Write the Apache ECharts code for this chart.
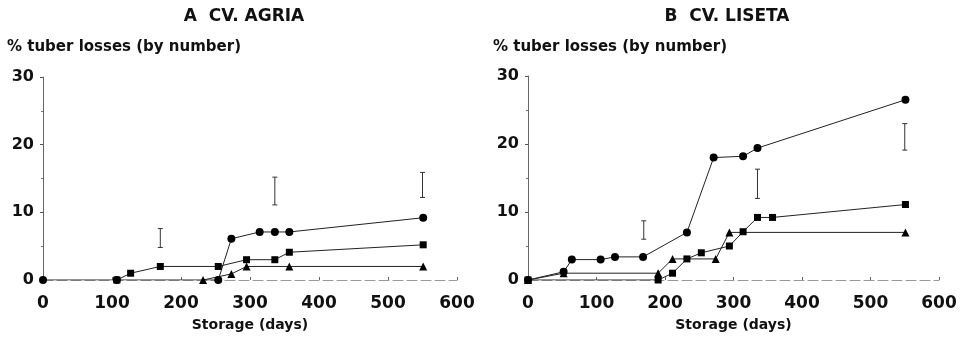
<!DOCTYPE html>
<html>
<head>
<meta charset="utf-8">
<script src="https://cdn.jsdelivr.net/npm/echarts@6/dist/echarts.min.js"></script>
<style>html,body{margin:0;padding:0;background:#fff;}#c{width:961px;height:340px;}</style>
</head>
<body>
<div id="c"></div>
<script>
// ---- Data ----
const xTicks = [0, 100, 200, 300, 400, 500, 600];
const yTicks = [0, 10, 20, 30];

// Panel A: cv. Agria
const daysA_circle = [0, 107, 254, 273, 314, 336, 357, 551];
const valsA_circle = [0, 0, 0, 6.1, 7.1, 7.1, 7.1, 9.2];
const daysA_square = [107, 127, 170, 254, 295, 336, 357, 551];
const valsA_square = [0, 1, 2, 2, 3, 3, 4.1, 5.2];
const daysA_tri = [232, 273, 295, 357, 551];
const valsA_tri = [0, 0.9, 2, 2, 2];
const daysA_err = [170, 336, 550];
const lowA_err = [4.8, 11.1, 12.2];
const highA_err = [7.6, 15.2, 15.9];

// Panel B: cv. Liseta
const daysB_circle = [0, 52, 64, 106, 127, 168, 232, 271, 314, 335, 551];
const valsB_circle = [0, 1.2, 3, 3, 3.4, 3.4, 7, 18, 18.2, 19.4, 26.5];
const daysB_square = [0, 190, 211, 232, 253, 294, 314, 335, 357, 551];
const valsB_square = [0, 0, 1, 3.1, 4, 5, 7.1, 9.2, 9.2, 11.1];
const daysB_tri = [0, 52, 190, 211, 274, 294, 551];
const valsB_tri = [0, 1, 1, 3.1, 3.1, 7, 7];
const daysB_err = [169, 335, 550];
const lowB_err = [6.0, 12.0, 19.1];
const highB_err = [8.7, 16.3, 23.0];

const titles = ['A  CV. AGRIA', 'B  CV. LISETA'];
const yName = '% tuber losses (by number)';
const xName = 'Storage (days)';

// ---- Helpers ----
const FONT = '"DejaVu Sans", "Liberation Sans", sans-serif';
const zip = (xs, ys) => xs.map((x, i) => [x, ys[i]]);
const zip3 = (xs, a, b) => xs.map((x, i) => [x, a[i], b[i]]);

function lineSeries(idx, xs, ys, symbol, size) {
  return {
    type: 'line', xAxisIndex: idx, yAxisIndex: idx,
    data: zip(xs, ys), symbol: symbol, symbolSize: size,
    showAllSymbol: true,
    lineStyle: { color: '#222', width: 1 },
    itemStyle: { color: '#000' },
    z: 3, animation: false
  };
}
function errSeries(idx, xs, lo, hi) {
  return {
    type: 'custom', xAxisIndex: idx, yAxisIndex: idx,
    data: zip3(xs, lo, hi),
    renderItem: function (params, api) {
      const p1 = api.coord([api.value(0), api.value(1)]);
      const p2 = api.coord([api.value(0), api.value(2)]);
      const w = 2.5;
      const st = { stroke: '#333', lineWidth: 1 };
      return {
        type: 'group',
        children: [
          { type: 'line', shape: { x1: p1[0], y1: p1[1], x2: p2[0], y2: p2[1] }, style: st },
          { type: 'line', shape: { x1: p1[0] - w, y1: p1[1], x2: p1[0] + w, y2: p1[1] }, style: st },
          { type: 'line', shape: { x1: p2[0] - w, y1: p2[1], x2: p2[0] + w, y2: p2[1] }, style: st }
        ]
      };
    },
    z: 2, animation: false
  };
}
function xAxis(idx) {
  return {
    type: 'value', gridIndex: idx, min: xTicks[0], max: xTicks[xTicks.length - 1], interval: 100,
    axisLine: { show: true, lineStyle: { color: '#999', width: 1, type: [10, 4] } },
    axisTick: { show: true, inside: true, length: 3, lineStyle: { color: '#666' } },
    axisLabel: { color: '#111', fontFamily: FONT, fontWeight: 'bold', fontSize: 17, margin: 15 },
    splitLine: { show: false },
    name: xName, nameLocation: 'middle', nameGap: 38,
    nameTextStyle: { color: '#111', fontFamily: FONT, fontWeight: 'bold', fontSize: 14 }
  };
}
function yAxis(idx) {
  return {
    type: 'value', gridIndex: idx, min: yTicks[0], max: yTicks[yTicks.length - 1], interval: 10,
    axisLine: { show: true, lineStyle: { color: '#666', width: 1 } },
    axisTick: { show: true, length: 3, lineStyle: { color: '#555' } },
    minorTick: { show: true, splitNumber: 2, length: 2, lineStyle: { color: '#777' } },
    axisLabel: { color: '#111', fontFamily: FONT, fontWeight: 'bold', fontSize: 16, margin: 9 },
    splitLine: { show: false }
  };
}
function text(x, y, s, size, align) {
  return {
    type: 'text', x: x, y: y,
    style: { text: s, fill: '#111', font: 'bold ' + size + 'px ' + FONT, align: align, verticalAlign: 'middle' }
  };
}

const chart = echarts.init(document.getElementById('c'), null, { renderer: 'canvas' });
chart.setOption({
  backgroundColor: '#fff',
  animation: false,
  grid: [
    { left: 43, right: 504, top: 77, bottom: 60 },
    { left: 528, right: 22, top: 76, bottom: 60 }
  ],
  xAxis: [xAxis(0), xAxis(1)],
  yAxis: [yAxis(0), yAxis(1)],
  graphic: [
    text(244, 17, titles[0], 17, 'center'),
    text(727, 17, titles[1], 17, 'center'),
    text(7, 47, yName, 15, 'left'),
    text(493, 47, yName, 15, 'left')
  ],
  series: [
    lineSeries(0, daysA_tri, valsA_tri, 'triangle', 8),
    lineSeries(0, daysA_square, valsA_square, 'rect', 7),
    lineSeries(0, daysA_circle, valsA_circle, 'circle', 8),
    errSeries(0, daysA_err, lowA_err, highA_err),
    lineSeries(1, daysB_tri, valsB_tri, 'triangle', 8),
    lineSeries(1, daysB_square, valsB_square, 'rect', 7),
    lineSeries(1, daysB_circle, valsB_circle, 'circle', 8),
    errSeries(1, daysB_err, lowB_err, highB_err)
  ]
});
</script>
</body>
</html>
